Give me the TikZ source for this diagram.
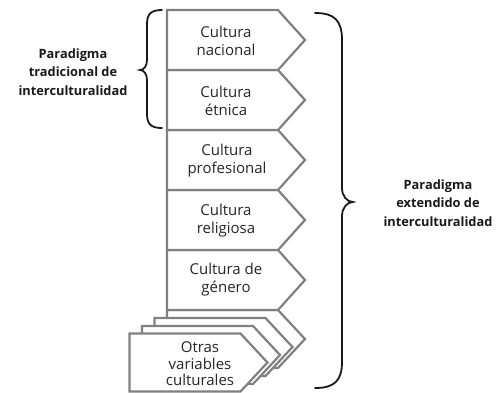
\documentclass[tikz,border=0pt]{standalone}
\usepackage{fontspec}
\setmainfont{Open Sans}
\definecolor{boxgray}{RGB}{128,128,128}
\tikzset{
  chevron/.style={draw=boxgray, line width=2.2pt, fill=white, line join=miter},
  lbl/.style={align=center, font=\fontsize{15}{18}\selectfont, text=black!85, inner sep=0pt},
  para/.style={align=center, font=\fontsize{12.8}{18.5}\selectfont\bfseries, text=black!90, inner sep=0pt},
  bracestyle/.style={draw=black!90, line width=1.8pt, line cap=round}
}
\newcommand{\chev}[2]{(#1,#2) -- ++(111,0) -- ++(27,29) -- ++(-27,29) -- ++(-111,0) -- cycle}
\newcommand{\chevfull}[2]{(#1,#2) -- ++(111,0) -- ++(27,30) -- ++(-27,30) -- ++(-111,0) -- cycle}
\begin{document}
\begin{tikzpicture}[x=1pt,y=-1pt]
\useasboundingbox (0,0) rectangle (501,392);
% stacked bottom layers (back to front)
\draw[chevron] \chev{167}{310};
\draw[chevron] \chev{154.5}{318};
\draw[chevron] \chev{142}{326};
\draw[chevron] \chev{129.5}{333.5};
% main column
\draw[chevron] \chevfull{167}{250};
\draw[chevron] \chevfull{167}{190};
\draw[chevron] \chevfull{167}{130};
\draw[chevron] \chevfull{167}{70};
\draw[chevron] \chevfull{167}{10};
% labels
\node[lbl] (c1) at (226,41) {Cultura\\nacional};
\node[lbl] (c2) at (226,101) {Cultura\\étnica};
\node[lbl] (c3) at (227,161) {Cultura\\profesional};
\node[lbl] (c4) at (226,221) {Cultura\\religiosa};
\node[lbl] (c5) at (226,280) {Cultura de\\género};
\node[lbl, font=\fontsize{15}{16.5}\selectfont] (c6) at (200,364) {Otras\\variables\\culturales};
% braces
\draw[bracestyle] (162,10) .. controls (151,10) and (147,14) .. (147,24) -- (147,60)
  .. controls (147,66) and (144,70) .. (140,70)
  .. controls (144,70) and (147,74) .. (147,80) -- (147,114)
  .. controls (147,124) and (151,128) .. (162,128);
\draw[bracestyle] (315,13) .. controls (334,13) and (342,20) .. (342,40) -- (342,188)
  .. controls (342,196) and (347,202) .. (353,202)
  .. controls (347,202) and (342,208) .. (342,216) -- (342,362)
  .. controls (342,381) and (334,388) .. (315,388);
\node[para] (p1) at (73,72) {Paradigma\\tradicional de\\interculturalidad};
\node[para] (p2) at (438,203) {Paradigma\\extendido de\\interculturalidad};
\end{tikzpicture}
\end{document}
